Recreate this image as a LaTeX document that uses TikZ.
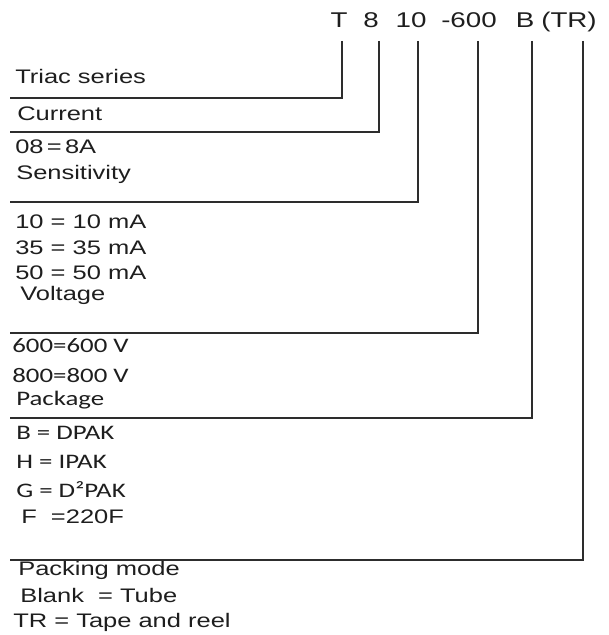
\documentclass[tikz,border=0pt]{standalone}
\usepackage{fontspec}
\setmainfont{Liberation Sans}[FakeStretch=1.3]
\newfontfamily\calfont{Carlito}[FakeStretch=1.3]
\usetikzlibrary{positioning}
\definecolor{ink}{RGB}{30,30,30}
\definecolor{wiregray}{RGB}{45,45,45}
\tikzset{
    code/.style={font=\fontsize{16}{18}\selectfont, text=ink, inner sep=0pt, anchor=base, text depth=0pt},
    lbl/.style={font=\fontsize{14.7}{16}\selectfont, text=ink, inner sep=0pt, anchor=base west},
    cal/.style={lbl, font=\calfont\fontsize{15.5}{18}\selectfont},
    wire/.style={draw=wiregray, line width=1.3pt}
}

\begin{document}
\begin{tikzpicture}[x=0.75pt, y=-0.75pt]
\useasboundingbox (0,0) rectangle (608,635);
% part number
\node[code] (cT) at (339,28) {T};
\node[code] (c8) at (371,28) {8};
\node[code] (c10) at (411,28) {10};
\node[code] (c600) at (469,28) {-600};
\node[code] (cB) at (525,28) {B};
\node[code] (cTR) at (569,28) {(TR)};
% ends of the leader lines
\coordinate (eT) at (10,98);
\coordinate (e8) at (10,132);
\coordinate (e10) at (10,202);
\coordinate (e600) at (10,333);
\coordinate (eB) at (10,418);
\coordinate (eTR) at (10,560);
% labels
\node[lbl] (triac) at (15,84) {Triac series};
\node[lbl] (cur) at (17,120) {Current};
\node[lbl] (cur08) at (15,153) {08\,=\,8A};
\node[lbl] (sens) at (16,179) {Sensitivity};
\node[lbl] (s10) at (15,228) {10 = 10 mA};
\node[lbl] (s35) at (15,254) {35 = 35 mA};
\node[lbl] (s50) at (15,279) {50 = 50 mA};
\node[lbl] (volt) at (20,300) {Voltage};
\node[cal] (v600) at (12,352) {600=600 V};
\node[cal] (v800) at (12,382) {800=800 V};
\node[cal] (pack) at (16,405) {Package};
\node[cal] (pB) at (16,439) {B = DPAK};
\node[cal] (pH) at (16,468) {H = IPAK};
\node[cal] (pG) at (16,497) {G = D²PAK};
\node[lbl] (pF) at (21,523) {F\ \ =220F};
\node[lbl] (packing) at (18,575) {Packing mode};
\node[lbl] (blank) at (20,602) {Blank\ \ = Tube};
\node[lbl] (tr) at (13,627) {TR = Tape and reel};
% leader lines
\draw[wire] ([xshift=2pt,yshift=-9.5pt]cT.south) |- (eT);
\draw[wire] ([xshift=6pt,yshift=-9.5pt]c8.south) |- (e8);
\draw[wire] ([xshift=5pt,yshift=-9.5pt]c10.south) |- (e10);
\draw[wire] ([xshift=7pt,yshift=-9.5pt]c600.south) |- (e600);
\draw[wire] ([xshift=5pt,yshift=-9.5pt]cB.south) |- (eB);
\draw[wire] ([xshift=10.5pt,yshift=-9.5pt]cTR.south) |- (eTR);
\end{tikzpicture}
\end{document}
